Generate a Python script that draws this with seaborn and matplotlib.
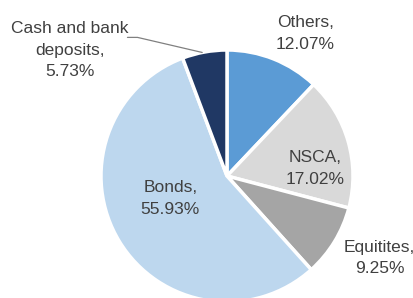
import matplotlib
matplotlib.use('Agg')
import matplotlib.pyplot as plt
import seaborn as sns
import numpy as np

# data (clockwise from 12 o'clock)
labels = ['Others', 'NSCA', 'Equitites', 'Bonds', 'Cash and bank\ndeposits']
shares = [12.07, 17.02, 9.25, 55.93, 5.73]
colors = ['#5B9BD5', '#D9D9D9', '#A5A5A5', '#BDD7EE', '#203864']

# label positions relative to pie centre, in radius units
label_pos = [(0.62, 1.13), (0.70, 0.06), (1.21, -0.65), (-0.45, -0.18), (-1.25, 1.0)]


def main():
    sns.set_style('white')
    plt.rcParams['font.family'] = ['Liberation Sans', 'DejaVu Sans']

    fig = plt.figure(figsize=(4.14, 2.98), dpi=100)
    ax = fig.add_axes([0, 0, 1, 1])
    ax.pie(shares, colors=colors, startangle=90, counterclock=False,
           radius=1.0, wedgeprops=dict(edgecolor='white', linewidth=2.5))

    r = 126.0
    cx, cy = 227.0, 176.0
    ax.set_xlim(-cx / r, (414 - cx) / r)
    ax.set_ylim(-(298 - cy) / r, cy / r)
    ax.set_aspect('equal', adjustable='datalim')
    ax.axis('off')

    for lab, val, (x, y) in zip(labels, shares, label_pos):
        ax.text(x, y, f'{lab},\n{val:.2f}%', ha='center', va='center',
                fontsize=12.5, color='#404040', linespacing=1.55)

    # leader line for the cash slice
    ang = np.deg2rad(90 + 360 * shares[-1] / 100 * 0.55)
    ax.plot([-0.79, -0.71, np.cos(ang) * 1.0], [1.10, 1.10, np.sin(ang) * 1.0],
            color='#808080', linewidth=0.9)

    fig.savefig('out.png', dpi=100)


if __name__ == "__main__":
    main()
